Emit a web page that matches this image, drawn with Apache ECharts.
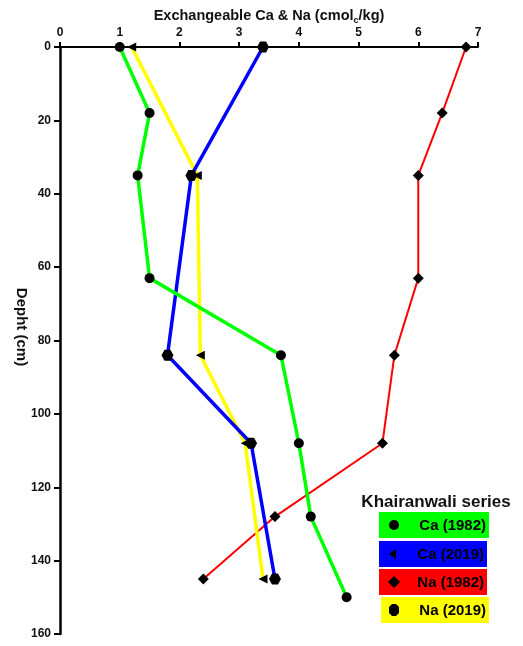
<!DOCTYPE html>
<html>
<head>
<meta charset="utf-8">
<script src="https://cdn.jsdelivr.net/npm/echarts@6/dist/echarts.min.js"></script>
<style>
  html, body { margin: 0; padding: 0; background: #fff; }
  #chart { width: 523px; height: 646px; }
</style>
</head>
<body>
<div id="chart"></div>
<script>
// Soil profile: exchangeable Ca and Na against depth
var xTicks = [0, 1, 2, 3, 4, 5, 6, 7];
var depthTicks = [0, 20, 40, 60, 80, 100, 120, 140, 160];

var caDepth1982 = [0, 18, 35, 63, 84, 108, 128, 150];
var ca1982 = [1.0, 1.5, 1.3, 1.5, 3.7, 4.0, 4.2, 4.8];

var naDepth1982 = [0, 18, 35, 63, 84, 108, 128, 145];
var na1982 = [6.8, 6.4, 6.0, 6.0, 5.6, 5.4, 3.6, 2.4];

var depth2019 = [0, 35, 84, 108, 145];
var ca2019 = [3.4, 2.2, 1.8, 3.2, 3.6];
var na2019 = [1.2, 2.3, 2.35, 3.1, 3.4];

var legendTitle = 'Khairanwali series';
var legendNames = ['Ca (1982)', 'Ca (2019)', 'Na (1982)', 'Na (2019)'];
var legendColors = ['#00ff00', '#0000ff', '#ff0000', '#ffff00'];

var FONT = 'Liberation Sans, Arial, sans-serif';
var hexPath = 'path://M-1,0 L-0.5,-0.866 L0.5,-0.866 L1,0 L0.5,0.866 L-0.5,0.866 Z';

function pairs(xs, ds) {
  return xs.map(function (v, i) { return [v, ds[i]]; });
}

var chart = echarts.init(document.getElementById('chart'));

var option = {
  backgroundColor: '#ffffff',
  animation: false,
  grid: { left: 60, top: 47, right: 45, bottom: 12, containLabel: false, outerBoundsMode: 'none' },
  xAxis: {
    type: 'value',
    position: 'top',
    min: xTicks[0],
    max: xTicks[xTicks.length - 1],
    interval: 1,
    name: '{m|Exchangeable Ca & Na (cmol}{s|c}{m|/kg)}',
    nameLocation: 'middle',
    nameGap: 22,
    nameMoveOverlap: false,
    nameTextStyle: {
      rich: {
        m: { fontFamily: FONT, fontWeight: 'bold', fontSize: 14.5, color: '#111' },
        s: { fontFamily: FONT, fontWeight: 'bold', fontSize: 9, color: '#111', padding: [10, 0, 0, 0] }
      }
    },
    axisLine: { show: true, lineStyle: { color: '#000', width: 2 } },
    axisTick: { show: true, inside: false, length: 5, lineStyle: { color: '#000', width: 2 } },
    axisLabel: { fontFamily: FONT, fontWeight: 'bold', fontSize: 12, color: '#111', margin: 8 },
    splitLine: { show: false }
  },
  yAxis: {
    type: 'value',
    inverse: true,
    min: depthTicks[0],
    max: depthTicks[depthTicks.length - 1],
    interval: 20,
    axisLine: { show: true, lineStyle: { color: '#000', width: 2.5 } },
    axisTick: { show: true, inside: false, length: 6, lineStyle: { color: '#000', width: 2 } },
    axisLabel: { fontFamily: FONT, fontWeight: 'bold', fontSize: 12, color: '#111', margin: 9 },
    splitLine: { show: false }
  },
  series: [
    {
      name: 'Na (1982)', type: 'line', data: pairs(na1982, naDepth1982),
      lineStyle: { color: '#ff0000', width: 2 },
      symbol: 'diamond', symbolSize: 11,
      itemStyle: { color: '#000' }, z: 2
    },
    {
      name: 'Na (2019)', type: 'line', data: pairs(na2019, depth2019),
      lineStyle: { color: '#ffff00', width: 3.5 },
      symbol: 'triangle', symbolRotate: 90, symbolSize: 9,
      itemStyle: { color: '#000' }, z: 3
    },
    {
      name: 'Ca (2019)', type: 'line', data: pairs(ca2019, depth2019),
      lineStyle: { color: '#0000ff', width: 3.5 },
      symbol: hexPath, symbolSize: [12, 11],
      itemStyle: { color: '#000' }, z: 4
    },
    {
      name: 'Ca (1982)', type: 'line', data: pairs(ca1982, caDepth1982),
      lineStyle: { color: '#00ff00', width: 3.5 },
      symbol: 'circle', symbolSize: 10,
      itemStyle: { color: '#000' }, z: 5
    }
  ],
  graphic: [
    {
      type: 'text', x: 21, y: 327, rotation: -Math.PI / 2,
      style: { text: 'Depht (cm)', font: 'bold 15px ' + FONT, fill: '#111', align: 'center', verticalAlign: 'middle' }
    },
    {
      type: 'text', x: 436, y: 502,
      style: { text: legendTitle, font: 'bold 17px ' + FONT, fill: '#111', align: 'center', verticalAlign: 'middle' }
    }
  ]
};

// legend boxes with their marker shapes
var boxes = [
  { x: 379, y: 512, w: 110, h: 26 },
  { x: 379, y: 541, w: 108, h: 26 },
  { x: 379, y: 569, w: 108, h: 26 },
  { x: 381, y: 597, w: 108, h: 26 }
];
var markers = [
  { type: 'circle', shape: { cx: 0, cy: 0, r: 5 } },
  { type: 'polygon', shape: { points: [[-5, 0], [2, -5], [2, 5]] } },
  { type: 'polygon', shape: { points: [[0, -6], [6, 0], [0, 6], [-6, 0]] } },
  { type: 'polygon', shape: { points: [[-5, -3], [-2, -6], [2, -6], [5, -3], [5, 3], [2, 6], [-2, 6], [-5, 3]] } }
];
boxes.forEach(function (b, i) {
  option.graphic.push({
    type: 'rect', shape: { x: b.x, y: b.y, width: b.w, height: b.h },
    style: { fill: legendColors[i] }
  });
  var m = markers[i];
  option.graphic.push({
    type: m.type, x: 394, y: b.y + b.h / 2, shape: m.shape,
    style: { fill: '#000' }
  });
  option.graphic.push({
    type: 'text', x: b.x + b.w - 3, y: b.y + b.h / 2 + 1,
    style: { text: legendNames[i], font: 'bold 15px ' + FONT, fill: '#000', align: 'right', verticalAlign: 'middle' }
  });
});

chart.setOption(option);
</script>
</body>
</html>
